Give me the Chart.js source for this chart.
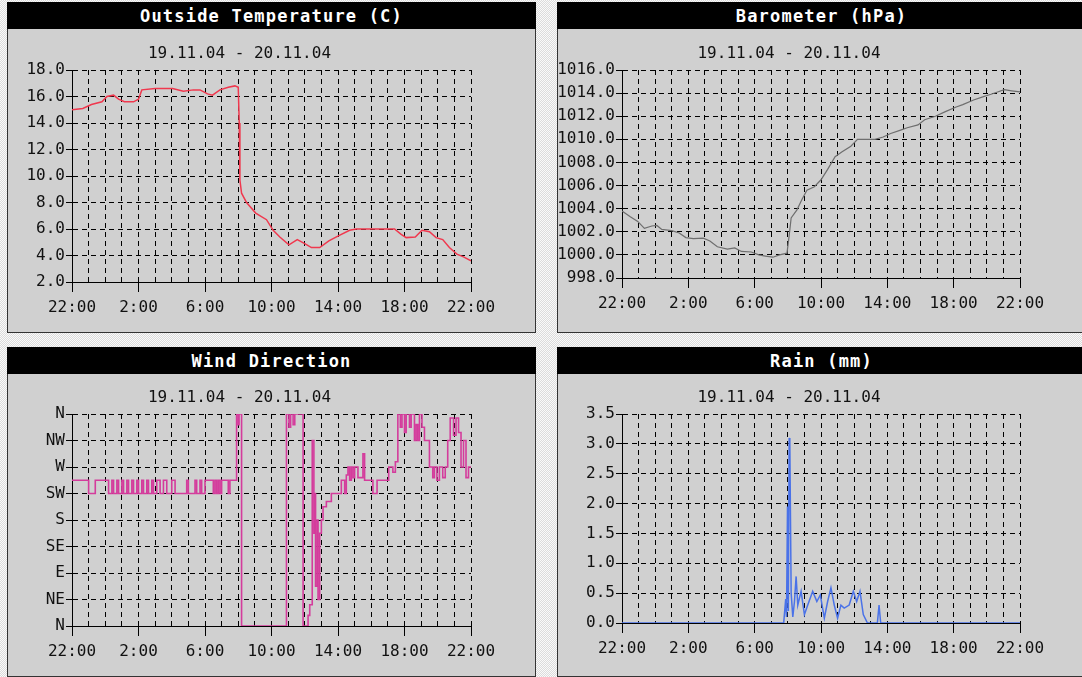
<!DOCTYPE html>
<html>
<head>
<meta charset="utf-8">
<title>Weather 19.11.04 - 20.11.04</title>
<script src="https://cdn.jsdelivr.net/npm/chart.js@4.4.1/dist/chart.umd.min.js"></script>
<style>
  body {
    margin: 0;
    width: 1082px;
    height: 677px;
    overflow: hidden;
    position: relative;
    background: repeating-conic-gradient(#dcdcdc 0 25%, #fafafa 0 50%) 0 0 / 2px 2px;
  }
  .panel {
    position: absolute;
    box-sizing: border-box;
    width: 529px;
    height: 331px;
    border: 1px solid #333;
    background: #d0d0d0;
  }
  .bar {
    position: absolute;
    left: -1px;
    right: -1px;
    top: -1px;
    height: 27px;
    background: #000;
    color: #fff;
    font: bold 17px "DejaVu Sans Mono", monospace;
    letter-spacing: 1.2px;
    line-height: 29px;
    text-align: center;
  }
  canvas { position: absolute; left: 0; top: 25px; }
</style>
</head>
<body>
<div class="panel" style="left:7px;top:2px">
  <div class="bar">Outside Temperature (C)</div>
  <canvas id="tempChart" width="527" height="304"></canvas>
</div>
<div class="panel" style="left:557px;top:2px">
  <div class="bar">Barometer (hPa)</div>
  <canvas id="baroChart" width="524" height="304"></canvas>
</div>
<div class="panel" style="left:7px;top:347px;height:330px">
  <div class="bar">Wind Direction</div>
  <canvas id="windChart" width="527" height="302"></canvas>
</div>
<div class="panel" style="left:557px;top:347px;height:330px">
  <div class="bar">Rain (mm)</div>
  <canvas id="rainChart" width="524" height="302"></canvas>
</div>
<script>
const subtitle = "19.11.04 - 20.11.04";
// x axis: hours since 22:00 on 19.11
const hourLabels = ["22:00", "2:00", "6:00", "10:00", "14:00", "18:00", "22:00"];
const windLabels = ["N", "NE", "E", "SE", "S", "SW", "W", "NW", "N"];

const tempHours = [0, 0.65, 1.17, 1.8, 2.1, 2.5, 2.8, 3.15, 3.7, 4.0, 4.2, 5.0, 6.05, 6.7, 7.3, 7.7,
  8.15, 8.45, 8.9, 9.4, 9.8, 10.0, 10.06, 10.1, 10.2, 10.5, 11.05, 11.7, 12.1, 12.5, 13.05, 13.55,
  14.0, 14.4, 14.9, 15.45, 16.05, 16.7, 17.1, 17.7, 18.55, 19.4, 19.8, 20.1, 20.65, 21.05, 21.5,
  21.9, 22.3, 22.7, 23.15, 23.55, 24];
const tempValues = [15.0, 15.1, 15.4, 15.6, 16.0, 16.1, 15.8, 15.6, 15.6, 15.8, 16.5, 16.6, 16.6, 16.4, 16.5, 16.5,
  16.2, 16.1, 16.5, 16.7, 16.8, 16.7, 14.0, 9.7, 8.7, 8.0, 7.2, 6.7, 5.9, 5.4, 4.8, 5.2,
  4.9, 4.6, 4.6, 5.1, 5.5, 5.9, 6.0, 6.0, 6.0, 6.0, 5.6, 5.35, 5.4, 5.9, 5.8,
  5.35, 5.2, 4.6, 4.1, 3.9, 3.6];

const baroHours = [0, 0.5, 0.95, 1.35, 1.8, 2.1, 2.4, 3.0, 3.45, 3.85, 4.3, 4.9, 5.3, 5.75, 6.35, 6.8,
  7.2, 7.8, 8.25, 8.65, 9.1, 9.5, 9.95, 10.1, 10.2, 10.55, 10.85, 11.15, 11.6, 12.0, 12.4, 12.85,
  13.25, 13.8, 14.2, 14.7, 15.25, 15.75, 16.2, 16.8, 17.2, 17.85, 18.25, 18.9, 19.5, 20.15, 20.55,
  21.2, 21.8, 22.25, 22.65, 23.05, 23.5, 24];
const baroValues = [1003.8, 1003.3, 1002.9, 1002.3, 1002.5, 1002.55, 1002.2, 1002.1, 1001.9, 1001.5, 1001.4, 1001.45, 1001.2, 1000.7, 1000.5, 1000.6,
  1000.3, 1000.25, 1000.0, 999.9, 999.8, 1000.0, 1000.15, 1001.9, 1003.2, 1003.9, 1004.8, 1005.6, 1005.9, 1006.5, 1007.4, 1008.5,
  1008.9, 1009.4, 1010.0, 1010.0, 1010.0, 1010.2, 1010.5, 1010.8, 1011.0, 1011.25, 1011.7, 1012.0, 1012.4, 1012.8, 1013.0,
  1013.4, 1013.7, 1013.9, 1014.1, 1014.3, 1014.2, 1014.1];

// 0 = N, 1 = NE ... 8 = N again
const windHours = [0, 1.0, 1.4, 2.2, 2.4, 2.5, 2.7, 2.8, 3.0, 3.1, 3.3, 3.4, 3.6, 3.7, 3.9, 4.0,
  4.2, 4.3, 4.5, 4.6, 4.8, 4.9, 5.1, 5.3, 5.5, 5.7, 6.0, 6.2, 6.9, 7.0, 7.4, 7.5, 7.7, 7.8,
  8.0, 8.5, 8.6, 8.7, 8.8, 8.9, 9.0, 9.4, 9.5, 9.9, 10.0, 10.05, 10.2, 12.9, 13.05, 13.15, 13.3,
  13.4, 13.9, 14.2, 14.3, 14.45, 14.55, 14.6, 14.65, 14.75, 14.8, 14.9, 15.0, 15.1, 15.3, 15.6,
  16.2, 16.4, 16.5, 16.6, 16.7, 16.8, 16.9, 17.0, 17.2, 17.5, 17.6, 18.1, 18.35, 19.05, 19.3,
  19.45, 19.6, 19.75, 19.85, 20.0, 20.1, 20.3, 20.4, 20.6, 20.7, 20.8, 20.9, 21.05, 21.2, 21.5,
  21.7, 21.8, 21.95, 22.1, 22.3, 22.45, 22.6, 22.75, 22.95, 23.1, 23.25, 23.4, 23.55, 23.7,
  23.85, 24];
const windValues = [5.5, 5.0, 5.5, 5.0, 5.5, 5.0, 5.5, 5.0, 5.5, 5.0, 5.5, 5.0, 5.5, 5.0, 5.5, 5.0,
  5.5, 5.0, 5.5, 5.0, 5.5, 5.0, 5.5, 5.0, 5.5, 5.0, 5.5, 5.0, 5.5, 5.0, 5.5, 5.0, 5.5, 5.0,
  5.5, 5.0, 5.5, 5.0, 5.5, 5.0, 5.5, 5.0, 5.5, 8.0, 7.6, 8.0, 0, 8.0, 7.5, 8.0, 7.6,
  8.0, 0, 0.4, 0.8, 7.0, 3.5, 5.0, 1.5, 4.0, 1.0, 3.5, 4.0, 4.5, 4.7, 5.0,
  5.5, 5.0, 5.7, 6.0, 5.5, 6.0, 5.6, 6.0, 5.6, 6.5, 5.5, 5.0, 5.5, 6.0, 5.8,
  6.2, 8.0, 7.5, 8.0, 7.3, 8.0, 7.5, 8.0, 7.0, 7.6, 7.0, 8.0, 7.5, 7.0, 6.0,
  5.6, 6.0, 5.5, 6.0, 5.6, 6.0, 7.0, 7.85, 7.2, 7.85, 7.3, 6.0, 7.0, 5.6,
  6.0, 6.0];

const rainHours = [0, 9.75, 9.87, 9.92, 9.98, 10.03, 10.08, 10.12, 10.2, 10.3, 10.4, 10.5, 10.6, 10.8,
  11.0, 11.2, 11.5, 11.75, 11.96, 12.2, 12.4, 12.6, 12.8, 13.0, 13.2, 13.4, 13.7, 13.95, 14.15,
  14.35, 14.55, 14.8, 15.4, 15.5, 15.6, 24];
const rainValues = [0, 0, 0.4, 0.1, 1.95, 0.2, 3.1, 3.0, 0.5, 0.1, 0.36, 0.78, 0.3, 0.53,
  0.14, 0.3, 0.53, 0.36, 0.47, 0.08, 0.36, 0.59, 0.3, 0.08, 0.3, 0.25, 0.3, 0.53, 0.36,
  0.53, 0.14, 0, 0, 0.3, 0, 0];

const mono = "'DejaVu Sans Mono', monospace";
const toPoints = (xs, ys) => xs.map((x, i) => ({ x: x, y: ys[i] }));

function makeChart(id, o) {
  return new Chart(document.getElementById(id).getContext("2d"), {
    type: "line",
    data: {
      datasets: [{
        data: o.points,
        borderColor: o.color,
        borderWidth: o.lineWidth,
        pointRadius: 0,
        tension: 0,
        stepped: o.stepped || false,
        fill: false
      }]
    },
    options: {
      responsive: false,
      animation: false,
      events: [],
      layout: { padding: { left: 0, right: o.padRight, top: 0, bottom: 0 } },
      plugins: {
        legend: { display: false },
        tooltip: { enabled: false },
        title: {
          display: true,
          text: subtitle,
          color: "#111",
          font: { family: mono, size: 16, weight: "normal", lineHeight: 1.2 },
          padding: { top: o.titleTop, bottom: o.plotTop - o.titleTop - 19.2 }
        }
      },
      scales: {
        x: {
          type: "linear",
          min: 0,
          max: 24,
          afterFit: (s) => { s.height = o.xHeight; },
          ticks: {
            stepSize: 1,
            autoSkip: false,
            maxRotation: 0,
            padding: 6,
            color: "#111",
            font: { family: mono, size: 16 },
            callback: (v) => (v % 4 === 0 ? hourLabels[v / 4] : "")
          },
          grid: {
            color: "#000",
            lineWidth: 1,
            tickLength: 10,
            tickColor: (c) => (c.tick && c.tick.value % 4 === 0 ? "#000" : "rgba(0,0,0,0)")
          },
          border: { color: "#000", width: 1, dash: [5, 4] }
        },
        y: {
          min: o.min,
          max: o.max,
          afterFit: (s) => { s.width = o.yWidth; },
          ticks: {
            stepSize: o.step,
            autoSkip: false,
            padding: 1,
            color: "#111",
            font: { family: mono, size: 16 },
            callback: o.label
          },
          grid: { color: "#000", lineWidth: 1, tickLength: 6 },
          border: { color: "#000", width: 1, dash: [5, 4] }
        }
      }
    }
  });
}

const fixed1 = (v) => v.toFixed(1);

const tempChart = makeChart("tempChart", {
  points: toPoints(tempHours, tempValues), color: "#f0384e", lineWidth: 1.5,
  min: 2, max: 18, step: 2, label: fixed1,
  yWidth: 64, padRight: 64, titleTop: 16, plotTop: 42, xHeight: 50
});

const baroChart = makeChart("baroChart", {
  points: toPoints(baroHours, baroValues), color: "#6e6e6e", lineWidth: 1.2,
  min: 998, max: 1016, step: 2, label: fixed1,
  yWidth: 64, padRight: 62, titleTop: 16, plotTop: 42, xHeight: 54
});

const windChart = makeChart("windChart", {
  points: toPoints(windHours, windValues), color: "#d43c9c", lineWidth: 1.6, stepped: true,
  min: 0, max: 8, step: 1, label: (v) => windLabels[v],
  yWidth: 64, padRight: 64, titleTop: 15, plotTop: 41, xHeight: 49
});

const rainChart = makeChart("rainChart", {
  points: toPoints(rainHours, rainValues), color: "#4a72e8", lineWidth: 1.5,
  min: 0, max: 3.5, step: 0.5, label: fixed1,
  yWidth: 64, padRight: 62, titleTop: 15, plotTop: 41, xHeight: 52
});
</script>
</body>
</html>
